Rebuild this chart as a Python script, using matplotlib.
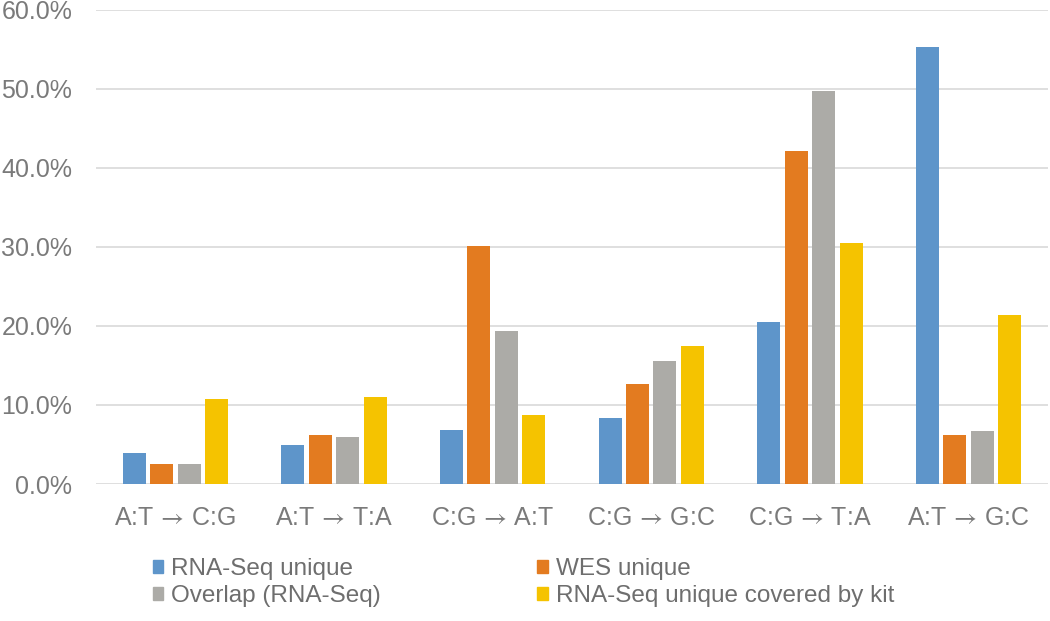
import numpy as np
import matplotlib
matplotlib.use('Agg')
import matplotlib.pyplot as plt
from matplotlib.patches import Patch

plt.rcParams['font.family'] = ['Liberation Sans', 'DejaVu Sans']
plt.rcParams['mathtext.fontset'] = 'stix'

# mutation classes and values (%)
categories = ['A:T$\\:\\rightarrow\\:$C:G', 'A:T$\\:\\rightarrow\\:$T:A',
              'C:G$\\:\\rightarrow\\:$A:T', 'C:G$\\:\\rightarrow\\:$G:C',
              'C:G$\\:\\rightarrow\\:$T:A', 'A:T$\\:\\rightarrow\\:$G:C']
rna_unique = [3.9, 4.9, 6.8, 8.3, 20.5, 55.3]
wes_unique = [2.5, 6.2, 30.1, 12.6, 42.2, 6.2]
overlap = [2.5, 5.9, 19.4, 15.6, 49.7, 6.7]
rna_kit = [10.7, 11.0, 8.7, 17.5, 30.5, 21.4]

series_names = ['RNA-Seq unique', 'WES unique', 'Overlap (RNA-Seq)',
                'RNA-Seq unique covered by kit']
colors = ['#5e95ca', '#e37b20', '#acaba7', '#f5c300']
yticks = [0, 10, 20, 30, 40, 50, 60]

fig = plt.figure(figsize=(10.5, 6.21), dpi=100)
ax = fig.add_axes([0.0914, 0.2206, 0.9066, 0.7634])

x = np.arange(len(categories))
slot = 0.173
bw = 0.145
all_series = [rna_unique, wes_unique, overlap, rna_kit]
for i, vals in enumerate(all_series):
    ax.bar(x + (i - 1.5) * slot, vals, width=bw, color=colors[i], zorder=3)

ax.set_xlim(-0.5, len(categories) - 0.5)
ax.set_ylim(0, 60)
ax.set_yticks(yticks)
ax.set_yticklabels(['%.1f%%' % v for v in yticks])
ax.set_xticks(x)
ax.set_xticklabels(categories)
ax.tick_params(axis='both', length=0, labelsize=18, labelcolor='#7a7a7a')
ax.tick_params(axis='x', pad=16)
ax.tick_params(axis='y', pad=17)
ax.grid(axis='y', color='#d9d9d9', linewidth=1.2, zorder=0)
for s in ax.spines.values():
    s.set_visible(False)

handles = [Patch(color=c) for c in colors]
order = [0, 2, 1, 3]
fig.legend([handles[i] for i in order], [series_names[i] for i in order],
           ncol=2, loc='upper left', bbox_to_anchor=(0.136, 0.117),
           frameon=False, fontsize=17.5, labelcolor='#6e6e6e',
           handlelength=0.45, handleheight=0.45, handletextpad=0.3,
           columnspacing=6.45, labelspacing=0.2, borderaxespad=0)

fig.savefig('out.png', dpi=100)
